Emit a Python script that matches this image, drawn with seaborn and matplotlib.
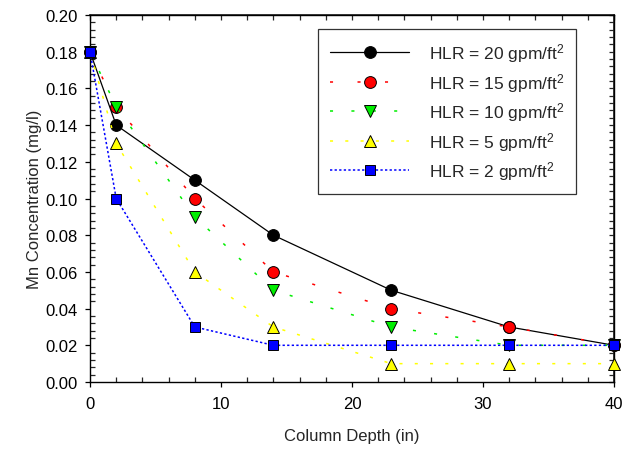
import matplotlib
matplotlib.use("Agg")
import matplotlib.pyplot as plt
import seaborn as sns
import pandas as pd
from matplotlib.ticker import MultipleLocator, FormatStrFormatter

depth = [0, 2, 8, 14, 23, 32, 40]
hlr20 = [0.18, 0.14, 0.11, 0.08, 0.05, 0.03, 0.02]
hlr15 = [0.18, 0.15, 0.10, 0.06, 0.04, 0.03, 0.02]
hlr10 = [0.18, 0.15, 0.09, 0.05, 0.03, 0.02, 0.02]
hlr5 = [0.18, 0.13, 0.06, 0.03, 0.01, 0.01, 0.01]
hlr2 = [0.18, 0.10, 0.03, 0.02, 0.02, 0.02, 0.02]
labels = ["HLR = 20 gpm/ft$^2$", "HLR = 15 gpm/ft$^2$", "HLR = 10 gpm/ft$^2$",
          "HLR = 5 gpm/ft$^2$", "HLR = 2 gpm/ft$^2$"]

sns.set_theme(style="ticks")
plt.rcParams['font.family'] = ['Liberation Sans', 'DejaVu Sans']
plt.rcParams['mathtext.fontset'] = 'custom'
plt.rcParams['mathtext.rm'] = 'Liberation Sans'
plt.rcParams['mathtext.it'] = 'Liberation Sans'

fig = plt.figure(figsize=(6.24, 4.52), dpi=100)
ax = fig.add_axes([90/624, 1-383/452, 524/624, 367/452])

styles = [
    (hlr20, "black", "o", "-", 8.5),
    (hlr15, "red", "o", (0, (2, 16)), 8.5),
    (hlr10, "#00ee00", "v", (0, (2, 12)), 8.5),
    (hlr5, "yellow", "^", (0, (2, 8)), 8.5),
    (hlr2, "blue", "s", (0, (1.5, 1.5)), 7.5),
]
for (vals, col, mk, ls, ms), lab in zip(styles, labels):
    df = pd.DataFrame({"depth": depth, "conc": vals})
    sns.lineplot(data=df, x="depth", y="conc", ax=ax, color=col, marker=mk,
                 markersize=ms, markeredgecolor="black", markeredgewidth=0.7,
                 linewidth=1.1 if ls != "-" else 0.9, linestyle=ls, label=lab,
                 clip_on=False, zorder=3)

ax.set_xlim(0, 40)
ax.set_ylim(0, 0.20)
ax.xaxis.set_major_locator(MultipleLocator(10))
ax.xaxis.set_minor_locator(MultipleLocator(2))
ax.yaxis.set_major_locator(MultipleLocator(0.02))
ax.yaxis.set_minor_locator(MultipleLocator(0.004))
ax.yaxis.set_major_formatter(FormatStrFormatter("%.2f"))
for s in ax.spines.values():
    s.set_linewidth(1.0)
    s.set_color("black")
ax.tick_params(which="major", direction="out", length=3.6, width=0.9, labelsize=12,
               colors="black", top=False, right=False, pad=5)
ax.tick_params(axis="x", which="major", pad=6.5)
ax.tick_params(which="minor", direction="in", length=3.5, width=0.9,
               top=False, right=False)
# top/right inward ticks
ax2 = ax.secondary_xaxis("top")
ax2.xaxis.set_major_locator(MultipleLocator(10))
ax2.xaxis.set_minor_locator(MultipleLocator(2))
ax2.tick_params(which="both", direction="in", length=3.5, width=0.9, labeltop=False)
ax3 = ax.secondary_yaxis("right")
ax3.yaxis.set_major_locator(MultipleLocator(0.02))
ax3.yaxis.set_minor_locator(MultipleLocator(0.004))
ax3.tick_params(which="both", direction="in", length=3.5, width=0.9, labelright=False)

ax.set_xlabel("Column Depth (in)", fontsize=12, labelpad=12)
ax.set_ylabel("Mn Concentration (mg/l)", fontsize=12, labelpad=3)

leg = ax.legend(loc="upper right", bbox_to_anchor=((576-90)/524, (383-30)/367),
                borderaxespad=0, frameon=True, fancybox=False, fontsize=12.5,
                handlelength=4.55, labelspacing=0.38, borderpad=0.7, handletextpad=1.1)
leg.get_frame().set_edgecolor("black")
leg.get_frame().set_linewidth(0.9)

fig.savefig("out.png", dpi=100)
